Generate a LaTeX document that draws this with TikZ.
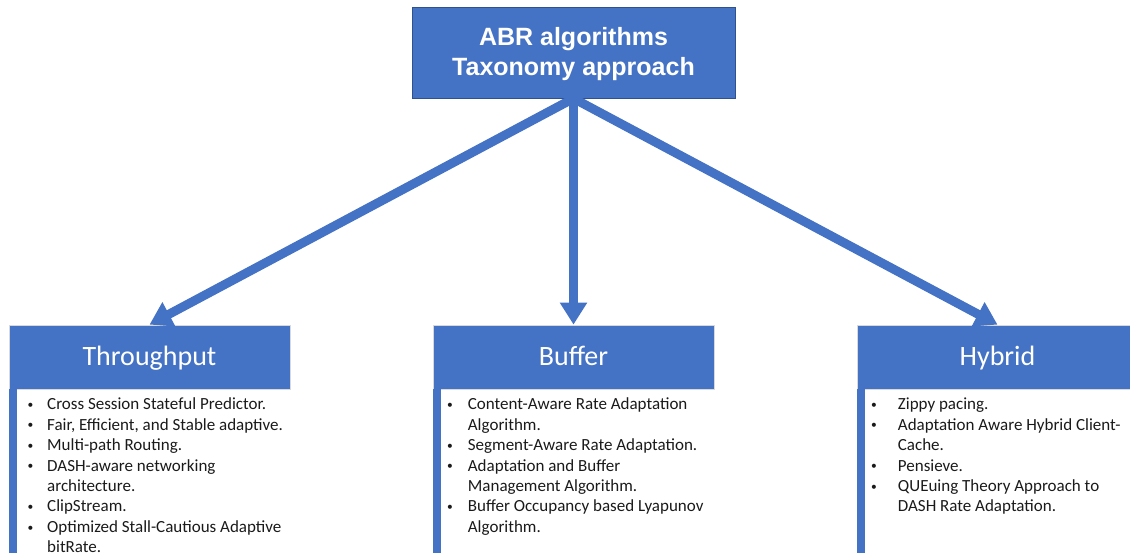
\documentclass[tikz,border=0pt]{standalone}
\usepackage{fontspec}
\setmainfont{Carlito}
\newfontfamily\titlefont{Liberation Sans}
\usetikzlibrary{arrows.meta}

\definecolor{abrblue}{HTML}{4472C4}
\definecolor{abredge}{HTML}{2F528F}
\definecolor{listtext}{HTML}{1A1A1A}

% bullet helpers for the lists
\newlength\bulletgap
\newcommand\smallbullet{\hspace{1.2pt}\raisebox{1.4pt}{\fontsize{11.5}{11.5}\selectfont\textbullet}}
\newcommand\itm{\strut\makebox[\bulletgap][l]{\smallbullet}}
\newcommand\cnt{\strut\hspace*{\bulletgap}}

\tikzset{
  rootbox/.style={draw=abredge, line width=0.9pt, fill=abrblue, text=white,
    minimum width=323pt, minimum height=91pt, inner sep=0pt, align=center,
    font=\titlefont\bfseries\fontsize{25}{30.5}\selectfont},
  catbox/.style={draw=black!15, line width=0.8pt, fill=abrblue, text=white,
    minimum width=281pt, minimum height=64pt, inner sep=0pt,
    text height=22pt, text depth=4.6pt,
    font=\fontsize{28}{33}\selectfont},
  sidebar/.style={fill=abrblue},
  flow/.style={draw=abrblue, line width=9pt,
    -{Triangle[width=26pt,length=22pt]}},
  itemlist/.style={anchor=north west, inner sep=0pt, align=left, text=listtext,
    font=\fontsize{17}{20.45}\selectfont,
    execute at begin node={\setlength\bulletgap{#1}}}
}

\begin{document}
\begin{tikzpicture}[x=1pt,y=-1pt]
\useasboundingbox (0,0) rectangle (1130,552);

% root of the taxonomy
\node[rootbox] (root) at (573.5,52.5)
  {\rule{0pt}{22pt}ABR algorithms\\Taxonomy approach\rule[-6.5pt]{0pt}{6.5pt}};

% category headers
\node[catbox] (thr) at (149.5,357) {Throughput};
\node[catbox] (buf) at (573.5,357) {Buffer};
\node[catbox] (hyb) at (997.5,357) {Hybrid};

% vertical bars under the headers
\fill[sidebar] (thr.south west) rectangle ++(8,180);
\fill[sidebar] (buf.south west) rectangle ++(8,180);
\fill[sidebar] (hyb.south west) rectangle ++(8,180);

% connectors
\draw[flow] (root.south) -- (thr.north);
\draw[flow] (root.south) -- (buf.north);
\draw[flow] (root.south) -- (hyb.north);

% algorithm lists
\node[itemlist=20.7pt] (thrlist) at (26.3,395.2) {%
\itm Cross Session Stateful Predictor.\\
\itm Fair, Efficient, and Stable adaptive.\\
\itm Multi-path Routing.\\
\itm DASH-aware networking\\
\cnt architecture.\\
\itm ClipStream.\\
\itm Optimized Stall-Cautious Adaptive\\
\cnt bitRate.};

\node[itemlist=21.9pt] (buflist) at (445.8,395.2) {%
\itm Content-Aware Rate Adaptation\\
\cnt Algorithm.\\
\itm Segment-Aware Rate Adaptation.\\
\itm Adaptation and Buffer\\
\cnt Management Algorithm.\\
\itm Buffer Occupancy based Lyapunov\\
\cnt Algorithm.};

\node[itemlist=27.9pt] (hyblist) at (869.8,395.2) {%
\itm Zippy pacing.\\
\itm Adaptation Aware Hybrid Client-\\
\cnt Cache.\\
\itm Pensieve.\\
\itm QUEuing Theory Approach to\\
\cnt DASH Rate Adaptation.};
\end{tikzpicture}
\end{document}
